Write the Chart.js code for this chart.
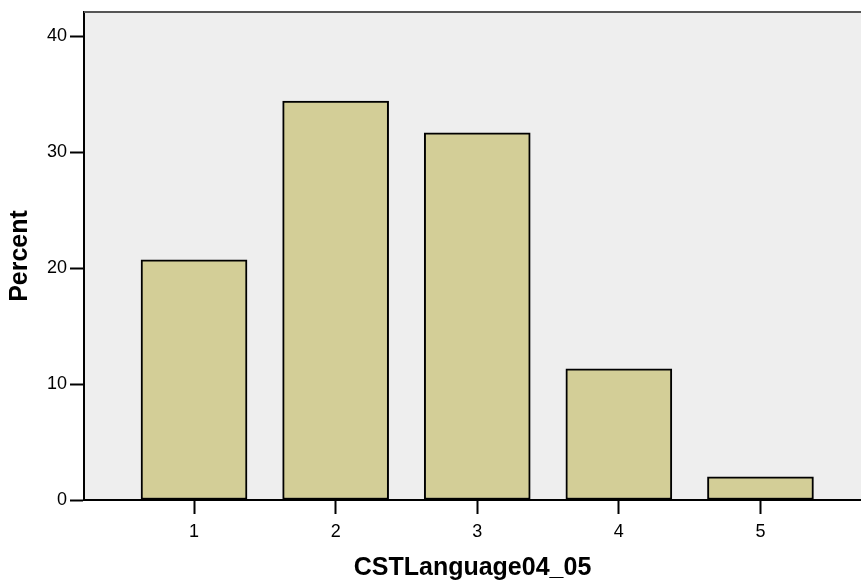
<!DOCTYPE html>
<html>
<head>
<meta charset="utf-8">
<script src="https://cdn.jsdelivr.net/npm/chart.js@4"></script>
<style>
	html, body { margin: 0; padding: 0; background: #fff; }
	#wrap { width: 861px; height: 585px; }
</style>
</head>
<body>
<div id="wrap"><canvas id="chart" width="861" height="585"></canvas></div>
<script>
const categories = [ 1, 2, 3, 4, 5 ];
const percents = [ 20.7, 34.4, 31.65, 11.3, 2.0 ];
const yTicks = [ 0, 10, 20, 30, 40 ];

const plotBackground = {
	id: 'plotBackground',
	beforeDraw( chart ) {
		const { ctx, chartArea } = chart;
		ctx.save();
		ctx.fillStyle = '#eeeeee';
		ctx.fillRect( chartArea.left, chartArea.top, chartArea.right - chartArea.left, chartArea.bottom - chartArea.top );
		ctx.restore();
	},
	afterDraw( chart ) {
		const { ctx, chartArea } = chart;
		ctx.save();
		ctx.strokeStyle = '#555';
		ctx.lineWidth = 2;
		ctx.beginPath();
		ctx.moveTo( chartArea.left, chartArea.top );
		ctx.lineTo( chartArea.right, chartArea.top );
		ctx.stroke();
		ctx.restore();
	},
};

new Chart(
	document.getElementById( 'chart' ).getContext( '2d' ),
	{
		type: 'bar',
		data: {
			datasets: [
				{
					data: categories.map( ( c, i ) => ( { x: c, y: percents[ i ] } ) ),
					backgroundColor: '#d3ce97',
					borderColor: '#000',
					borderWidth: 2,
					borderSkipped: false,
					barThickness: 106,
				},
			],
		},
		options: {
			responsive: false,
			animation: false,
			layout: { padding: { top: 12, right: 0, left: 0, bottom: 0 } },
			plugins: {
				legend: { display: false },
				tooltip: { enabled: false },
			},
			scales: {
				x: {
					type: 'linear',
					offset: false,
					min: 0.223,
					max: 5.71,
					afterBuildTicks: axis => { axis.ticks = categories.map( v => ( { value: v } ) ); },
					afterFit: axis => {
						axis.height = 85;
						axis.paddingLeft = 0;
						axis.paddingRight = 0;
					},
					grid: { offset: false, drawOnChartArea: false, tickLength: 14, tickColor: '#000', tickWidth: 2 },
					border: { color: '#000', width: 2 },
					ticks: { color: '#000', font: { family: 'Liberation Sans, Arial', size: 18 }, padding: 7 },
					title: {
						display: true,
						text: 'CSTLanguage04_05',
						color: '#000',
						font: { family: 'Liberation Sans, Arial', size: 25, weight: 'bold' },
						padding: { top: 2, bottom: 2 },
					},
				},
				y: {
					min: 0,
					max: 42.07,
					afterBuildTicks: axis => { axis.ticks = yTicks.map( v => ( { value: v } ) ); },
					afterFit: axis => {
						axis.width = 84;
						axis.paddingTop = 0;
						axis.paddingBottom = 0;
					},
					grid: { drawOnChartArea: false, tickLength: 14, tickColor: '#000', tickWidth: 2 },
					border: { color: '#000', width: 2 },
					ticks: { color: '#000', font: { family: 'Liberation Sans, Arial', size: 18 }, padding: 3 },
					title: {
						display: true,
						text: 'Percent',
						color: '#000',
						font: { family: 'Liberation Sans, Arial', size: 25, weight: 'bold' },
						padding: { top: 5, bottom: 0 },
					},
				},
			},
		},
		plugins: [ plotBackground ],
	}
);
</script>
</body>
</html>
